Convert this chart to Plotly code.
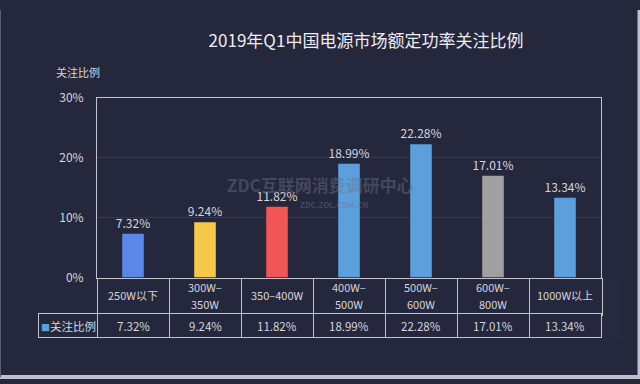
import plotly.graph_objects as go

categories = ["250W以下", "300W–350W", "350–400W", "400W–500W", "500W–600W", "600W–800W", "1000W以上"]
header_labels = ["250W以下", "300W–<br>350W", "350–400W", "400W–<br>500W", "500W–<br>600W", "600W–<br>800W", "1000W以上"]
values = [7.32, 9.24, 11.82, 18.99, 22.28, 17.01, 13.34]
bar_colors = ["#5b88e8", "#f7c948", "#f25555", "#5b9fdc", "#5b9fdc", "#a0a0a0", "#5b9fdc"]
series_name = "关注比例"
y_ticks = [0, 10, 20, 30]

W, H = 640, 384
BG = "#25273d"
LINE = "#c4c4cc"
TXT = "#d6d6dc"
FONT = "Noto Sans CJK SC, Noto Sans, sans-serif"

fig = go.Figure()
fig.add_trace(go.Bar(
    x=categories, y=values, width=0.3,
    marker=dict(color=bar_colors, line=dict(width=0)),
    text=[f"{v:.2f}%" for v in values], textposition="outside",
    constraintext="none",
    textfont=dict(color=TXT, size=12, family=FONT),
    cliponaxis=False, showlegend=False,
))

# table grid: category row
fig.add_trace(go.Table(
    domain=dict(x=[97 / W, 602 / W], y=[1 - 321 / H, 1 - 281 / H]),
    columnwidth=[1] * len(categories),
    header=dict(values=[""] * len(categories), height=37, fill_color=BG,
                line=dict(color=LINE, width=1)),
    cells=dict(values=[]),
))
# table grid: value row
fig.add_trace(go.Table(
    domain=dict(x=[38 / W, 602 / W], y=[1 - 346 / H, 1 - 318 / H]),
    columnwidth=[59] + [72] * len(values),
    header=dict(values=[""] * (len(values) + 1), height=24, fill_color=BG,
                line=dict(color=LINE, width=1)),
    cells=dict(values=[]),
))

def ann(text, x, y, size, color=TXT, xref="paper"):
    return dict(text=text, xref=xref, yref="paper", x=x, y=y, xanchor="center", yanchor="middle",
                showarrow=False, font=dict(size=size, color=color, family=FONT))

annotations = [
    ann(series_name, 78 / W, 1 - 65 / H, 11),
    ann("<b>ZDC互联网消费调研中心</b>", 320 / W, 1 - 183 / H, 17, "rgba(110,115,140,0.45)"),
    ann("<b>ZDC.ZOL.COM.CN</b>", 334 / W, 1 - 204 / H, 8, "rgba(110,115,140,0.45)"),
    ann(f"<span style='color:#5b9fdc;font-size:9px'>■</span>{series_name}", 68 / W, 1 - 331 / H, 11.5),
]
for cat, lab, v in zip(categories, header_labels, values):
    lines = lab.split("<br>")
    ys = [298] if len(lines) == 1 else [290, 308]
    for ln, yy in zip(lines, ys):
        annotations.append(ann(ln, cat, 1 - yy / H, 11, xref="x"))
    annotations.append(ann(f"{v:.2f}%", cat, 1 - 331 / H, 11.5, xref="x"))

fig.update_layout(
    width=W, height=H,
    margin=dict(l=0, r=0, t=0, b=0),
    paper_bgcolor=BG, plot_bgcolor=BG,
    font=dict(family=FONT, color=TXT),
    title=dict(text="2019年Q1中国电源市场额定功率关注比例", x=366 / W, y=1 - 41 / H,
               xanchor="center", yanchor="middle",
               font=dict(size=17, color="#ececf0", family=FONT)),
    xaxis=dict(domain=[97 / W, 601 / W], showticklabels=False, showline=True, mirror=True,
               linecolor=LINE, linewidth=1, showgrid=False, ticks=""),
    yaxis=dict(domain=[1 - 280 / H, 1 - 92 / H], range=[0, 30], tickvals=y_ticks,
               ticktext=[f"{t}%" for t in y_ticks], showline=True, mirror=True,
               linecolor=LINE, linewidth=1,
               gridcolor="#363950", gridwidth=1, zeroline=False,
               tickfont=dict(size=12, color=TXT, family=FONT), ticklabelstandoff=10),
    annotations=annotations,
    shapes=[
        dict(type="line", xref="paper", yref="paper", x0=1, x1=1, y0=0, y1=1,
             line=dict(color="#c0c0c8", width=5)),
        dict(type="line", xref="paper", yref="paper", x0=0, x1=1, y0=0, y1=0,
             line=dict(color="#c0c0c8", width=4)),
        dict(type="line", xref="paper", yref="paper", x0=0, x1=0, y0=0, y1=1,
             line=dict(color="#5a5c70", width=2)),
    ],
)

fig.write_html("out.html", config={"displayModeBar": False},
               post_script="document.body.style.margin='0';document.body.style.overflow='hidden';")
